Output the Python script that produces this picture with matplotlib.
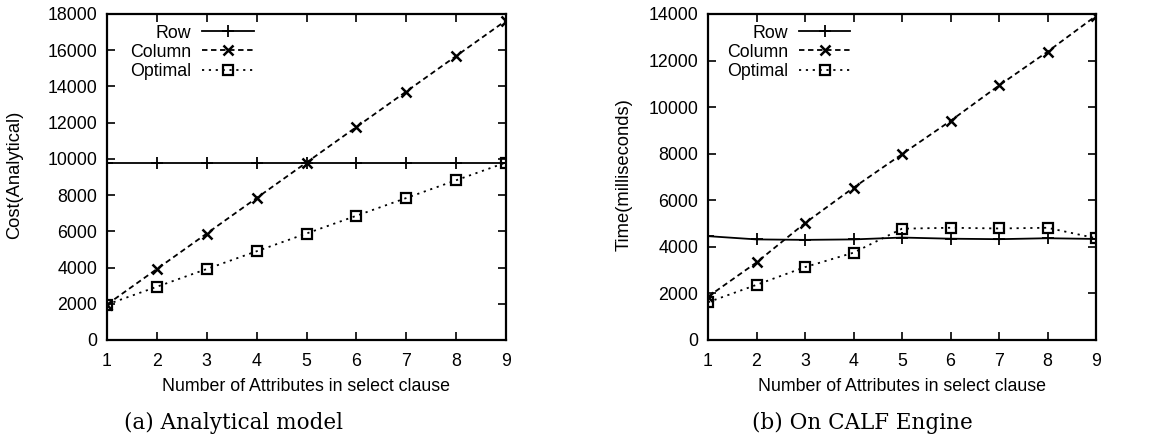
import matplotlib
matplotlib.use("Agg")
import matplotlib.pyplot as plt

# ---- data ----
x_attrs = [1, 2, 3, 4, 5, 6, 7, 8, 9]

# (a) Analytical model
a_row = [9800, 9800, 9800, 9800, 9800, 9800, 9800, 9800, 9800]
a_column = [1960, 3920, 5880, 7840, 9800, 11760, 13720, 15680, 17640]
a_optimal = [1960, 2940, 3920, 4900, 5880, 6860, 7840, 8820, 9800]

# (b) On CALF Engine
b_row = [4460, 4320, 4300, 4320, 4400, 4350, 4330, 4370, 4340]
b_column = [1860, 3330, 5020, 6540, 7980, 9410, 10930, 12380, 13920]
b_optimal = [1620, 2370, 3130, 3750, 4780, 4820, 4790, 4820, 4370]

series_labels = ["Row", "Column", "Optimal"]
a_yticks = [0, 2000, 4000, 6000, 8000, 10000, 12000, 14000, 16000, 18000]
b_yticks = [0, 2000, 4000, 6000, 8000, 10000, 12000, 14000]
xlabel = "Number of Attributes in select clause"
a_ylabel = "Cost(Analytical)"
b_ylabel = "Time(milliseconds)"
a_caption = "(a) Analytical model"
b_caption = "(b) On CALF Engine"

plt.rcParams["font.family"] = ["Liberation Sans", "DejaVu Sans"]

fig = plt.figure(figsize=(11.55, 4.38), dpi=100)
W, H = 1155, 438


def make_axes(left_px, right_px, top_px, bottom_px):
    return fig.add_axes([left_px / W, 1 - bottom_px / H,
                         (right_px - left_px) / W, (bottom_px - top_px) / H])


def draw(ax, row, col, opt, ymax, yticks, ylabel, ylab_x):
    lw = 1.3
    ax.plot(x_attrs, row, color="black", lw=lw, marker="+", ms=8, mew=1.3,
            label=series_labels[0])
    ax.plot(x_attrs, col, color="black", lw=lw, ls=(0, (3, 2)), marker="x",
            ms=7, mew=1.8, label=series_labels[1])
    ax.plot(x_attrs, opt, color="black", lw=lw, ls=(0, (1.2, 2.6)), marker="s",
            ms=7, mew=1.6, mfc="none", label=series_labels[2])
    ax.set_xlim(1, 9)
    ax.set_ylim(0, ymax)
    ax.set_xticks(x_attrs)
    ax.set_yticks(yticks)
    ax.tick_params(direction="in", length=6, width=1.2, labelsize=12.8,
                   top=True, right=True, pad=7)
    ax.tick_params(axis="x", pad=9)
    for s in ax.spines.values():
        s.set_linewidth(1.6)
    ax.set_xlabel(xlabel, fontsize=12.8, labelpad=6)
    ax.set_ylabel(ylabel, fontsize=13.2)
    ax.yaxis.set_label_coords(ylab_x, 0.506)
    leg = ax.legend(loc="upper right", bbox_to_anchor=(0.39, 0.995),
                    markerfirst=False, frameon=False, fontsize=12.8,
                    handlelength=2.9, labelspacing=0.12, borderpad=0,
                    handletextpad=0.6)
    return leg


ax1 = make_axes(107, 506, 14, 340)
draw(ax1, a_row, a_column, a_optimal, 18000, a_yticks, a_ylabel,
     (23 - 107) / 399)
ax2 = make_axes(708, 1096, 14, 340)
draw(ax2, b_row, b_column, b_optimal, 14000, b_yticks, b_ylabel,
     (633 - 708) / 388)

fig.text(233 / W, 1 - 423 / H, a_caption, ha="center", va="center",
         fontsize=15.5, family="DejaVu Serif")
fig.text(862 / W, 1 - 423 / H, b_caption, ha="center", va="center",
         fontsize=15.5, family="DejaVu Serif")

fig.savefig("out.png", dpi=100)
